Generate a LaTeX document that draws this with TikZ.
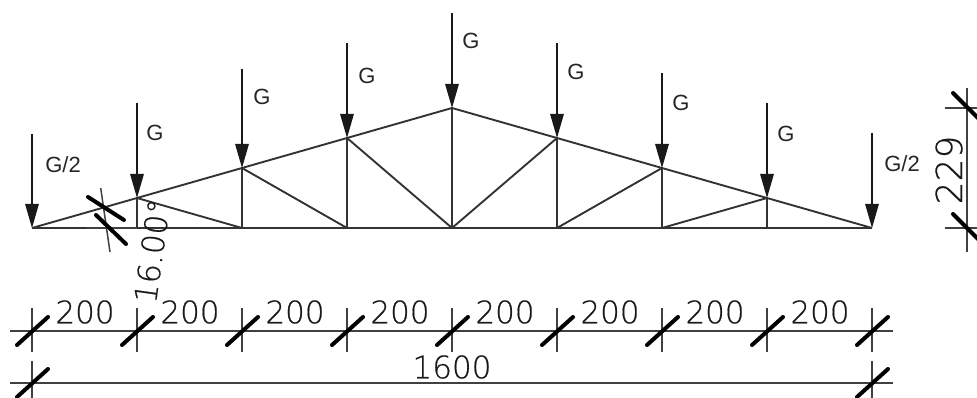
\documentclass[tikz,border=0pt]{standalone}
\usepackage{fontspec}
\setmainfont{Liberation Sans}
\newfontfamily\dimfont[FakeBold=0.5]{DejaVu Sans ExtraLight}
\usetikzlibrary{arrows.meta}
\tikzset{
  chord/.style={line width=1.9pt,draw=black!80},
  dimline/.style={line width=1.5pt,draw=black!75},
  slash/.style={line width=4pt,line cap=round,draw=black},
  load/.style={line width=1.5pt,draw=black!90,-{Triangle[width=13.5pt,length=24pt]}},
  loadtext/.style={inner sep=0pt,font=\fontsize{22}{22}\selectfont,text=black!85},
  dimtext/.style={inner sep=0pt,font=\dimfont\fontsize{31}{31}\selectfont,text=black!90},
  bigdimtext/.style={inner sep=0pt,font=\dimfont\fontsize{36}{36}\selectfont,text=black!90}
}
\begin{document}
\begin{tikzpicture}[x=1pt,y=-1pt]
\useasboundingbox (0,0) rectangle (977,398);
\clip (0,0) rectangle (977,398);
% joints
\foreach \n/\x/\t in {0/32/228,1/137/198,2/242/168,3/347/138,4/452/108,5/557/138,6/662/168,7/767/198,8/872/228}{
  \coordinate (T\n) at (\x,\t);
  \coordinate (B\n) at (\x,228);
}
% truss
\draw[chord] (B0) -- (B8);
\draw[chord] (T0) -- (T4) -- (T8);
\foreach \n in {1,...,7}{\draw[chord] (T\n) -- (B\n);}
\draw[chord] (T1) -- (B2);
\draw[chord] (T2) -- (B3);
\draw[chord] (T3) -- (B4);
\draw[chord] (T5) -- (B4);
\draw[chord] (T6) -- (B5);
\draw[chord] (T7) -- (B6);
% loads
\foreach \n/\x/\top in {0/32/134,1/137/103,2/242/69,3/347/43,4/452/13,5/557/43,6/662/73,7/767/103,8/872/133}{
  \coordinate (S\n) at (\x,\top);
  \draw[load] (S\n) -- (T\n);
}
\node[loadtext] (g0) at (63,165) {G/2};
\node[loadtext] (g1) at (155,133) {G};
\node[loadtext] (g2) at (262,97) {G};
\node[loadtext] (g3) at (367,76) {G};
\node[loadtext] (g4) at (471,41) {G};
\node[loadtext] (g5) at (576,72) {G};
\node[loadtext] (g6) at (681,103) {G};
\node[loadtext] (g7) at (786,134) {G};
\node[loadtext] (g8) at (902,164) {G/2};
% angle dimension
\draw[dimline] (87,228) -- (B1);
\draw[dimline] (100.7,188) -- (110,252);
\draw[slash] (88,197) -- (124,220);
\draw[slash] (96,215) -- (126,244);
\node[dimtext,rotate=82] (ang) at (152,251) {16.00°};
% row 1
\draw[dimline] (10,331) -- (893,331);
\foreach \n in {0,...,8}{
  \draw[dimline] (B\n |- 0,308) -- (B\n |- 0,352);
  \draw[slash] ([shift={(-15,14)}]B\n |- 0,331) -- ([shift={(16,-14)}]B\n |- 0,331);
}
\foreach \x in {85,190,295,400,505,610,715,820}{
  \node[dimtext] at (\x,312) {200};
}
% row 2
\draw[dimline] (10,383) -- (893,383);
\foreach \n in {0,8}{
  \draw[dimline] (B\n |- 0,361) -- (B\n |- 0,398);
  \draw[slash] ([shift={(-15,14)}]B\n |- 0,383) -- ([shift={(16,-14)}]B\n |- 0,383);
}
\node[dimtext] (total) at (452,367) {1600};
% height dimension
\draw[dimline] (967,88) -- (967,252);
\draw[dimline] (945,108) -- (977,108);
\draw[dimline] (945,228) -- (977,228);
\draw[slash] (953,93) -- (982,122);
\draw[slash] (953,214) -- (982,243);
\node[bigdimtext,rotate=90] (hgt) at (949,170) {229};
\end{tikzpicture}
\end{document}
